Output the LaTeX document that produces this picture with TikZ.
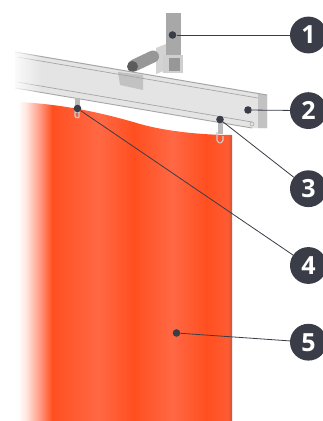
\documentclass[tikz,border=0pt]{standalone}
\usepackage{fontspec}
\setmainfont{Open Sans}
\usetikzlibrary{positioning,fadings}
\definecolor{badgegray}{HTML}{3A3D47}
\definecolor{railgray}{HTML}{E4E4E4}
\definecolor{railline}{HTML}{A6A6A6}
\definecolor{rodgray}{HTML}{A8A8A8}
\definecolor{curtaina}{HTML}{FF6844}
\definecolor{curtainb}{HTML}{FF4F20}
\definecolor{curtaind}{HTML}{C8563C}
\pgfdeclarehorizontalshading{curtainshade}{100bp}{
  color(0bp)=(white);
  color(25bp)=(white);
  color(27bp)=(curtaina!18!white);
  color(30bp)=(curtaina!65!white);
  color(33bp)=(curtainb);
  color(36bp)=(curtainb!70!curtaina);
  color(44bp)=(curtaina);
  color(52bp)=(curtainb);
  color(61bp)=(curtaina);
  color(69bp)=(curtainb);
  color(74bp)=(curtainb!50!curtaina);
  color(75bp)=(curtaind);
  color(100bp)=(curtaind)}
\begin{document}
\begin{tikzpicture}[
  x=1pt, y=-1pt,
  node distance=39.5pt,
  badge/.style={circle, fill=badgegray, text=white, minimum size=36.8pt, inner sep=0pt, font=\fontsize{25}{25}\selectfont\bfseries},
  dot/.style={circle, fill=badgegray, minimum size=7.6pt, inner sep=0pt},
  linea/.style={badgegray, line width=0.8pt},
  hook/.style={draw=rodgray, line width=1.2pt, rounded corners=1pt}
]
\useasboundingbox (0,0) rectangle (323,421);
\fill[white] (0,0) rectangle (323,421);
% cortina
\path[shading=curtainshade] (18,102) .. controls (60,104) and (100,112) .. (140,124) .. controls (165,131) and (200,135) .. (232,135) -- (232,421) -- (18,421) -- cycle;
% soporte
\fill[rodgray!50] (156,48) -- (166,44) -- (166,70) -- (156,74) -- cycle;
\draw[rodgray!90!black, line width=12pt, line cap=round] (134,65.5) -- (153,56.5);
\fill[rodgray] (166,13) rectangle (181,62);
\fill[rodgray!55] (163,55) rectangle (183,73);
\fill[rodgray!90!black] (169,58) rectangle (180,71);
\fill[rodgray!55!black] (132.5,66.5) circle (5.5);
% riel
\fill[railgray] (15,52) -- (267,95) -- (267,128) -- (252,128) -- (15,88) -- cycle;
\fill[rodgray!70] (258,94) -- (267,95) -- (267,128) -- (258,128) -- cycle;
\fill[rodgray!70] (118,72) -- (143,75) -- (143,90) -- (120,85) -- cycle;
\draw[railline, line width=1pt] (15,52) -- (267,95);
\draw[railline, line width=0.7pt] (17,57) -- (258,98);
\draw[railline, line width=0.7pt] (17,82) -- (252,122);
\draw[railline, line width=0.9pt] (15,88) -- (252,128);
\draw[rodgray, fill=railgray, line width=0.6pt] (252,124) circle (2);
\fill[white, path fading=east] (10,45) rectangle (42,95);
% ganchos
\fill[rodgray!80] (74.5,98) rectangle (79.5,113);
\draw[hook, rodgray!60] (75,110) -- (75,117) -- (79,118) -- (79,110);
\fill[rodgray!80] (217.5,122) rectangle (222.5,134);
\draw[hook, rodgray!60] (217,132) -- (217,141) -- (220,143.5) -- (223,141) -- (223,136);
% etiquetas
\node[badge] (b1) at (308.4,35) {1};
\node[badge, below=38.4pt of b1] (b2) {2};
\node[badge, below=40.9pt of b2] (b3) {3};
\node[badge, below=39.6pt of b3] (b4) {4};
\node[badge, below=of b4] (b5) {5};
\node[dot] (d1) at (172.5,35) {};
\node[dot] (d2) at (248,110) {};
\node[dot] (d3) at (220,119.5) {};
\node[dot] (d4) at (77.5,108.5) {};
\node[dot] (d5) at (176.5,333) {};
\draw[linea] (d1) -- (b1);
\draw[linea] (d2) -- (b2);
\draw[linea] (d3) -- (b3);
\draw[linea] (d4) -- (b4);
\draw[linea] (d5) -- (b5);
\end{tikzpicture}
\end{document}
